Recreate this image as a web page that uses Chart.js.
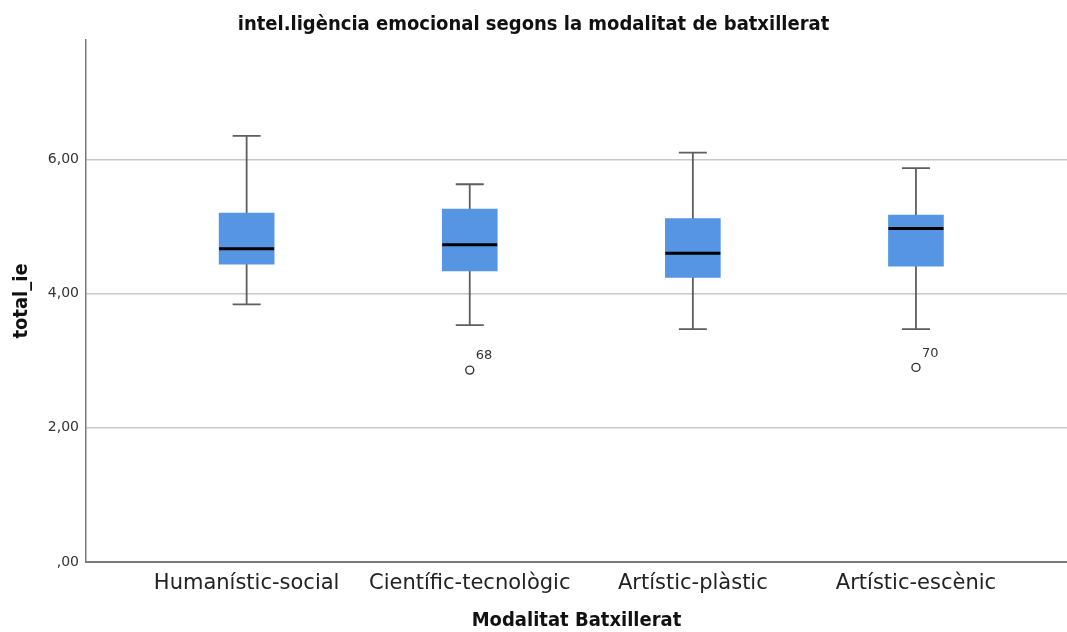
<!DOCTYPE html>
<html>
<head>
<meta charset="utf-8">
<script src="https://cdn.jsdelivr.net/npm/chart.js@4.4.1/dist/chart.umd.min.js"></script>
<style>
  html, body { margin: 0; padding: 0; background: #ffffff; }
  #wrap { width: 1067px; height: 632px; }
</style>
</head>
<body>
<div id="wrap"><canvas id="chart" width="1067" height="632"></canvas></div>
<script>
// Box plot of total_ie by modalitat de batxillerat
const categories  = ['Humanístic-social', 'Científic-tecnològic', 'Artístic-plàstic', 'Artístic-escènic'];
const whiskerLow  = [3.84, 3.53, 3.47, 3.47];
const quartile1   = [4.44, 4.34, 4.24, 4.41];
const medians     = [4.67, 4.73, 4.60, 4.97];
const quartile3   = [5.20, 5.26, 5.12, 5.17];
const whiskerHigh = [6.35, 5.63, 6.10, 5.87];

// outliers: category index, value, case number
const outlierCategory = [1, 3];
const outlierValue    = [2.86, 2.90];
const outlierCase     = ['68', '70'];

const yTicks = [0, 2, 4, 6];

const TITLE_FONT = 'DejaVu Sans Condensed, DejaVu Sans, sans-serif';
const TEXT_FONT  = 'DejaVu Sans, sans-serif';

function fmtComma(v) {
  const s = v.toFixed(2).replace('.', ',');
  return s.startsWith('0') ? s.slice(1) : s;
}

// whiskers behind the boxes, medians and case labels on top
const boxplotParts = {
  id: 'boxplotParts',
  beforeDatasetsDraw(chart, args, opts) {
    const { ctx, scales: { x, y } } = chart;
    ctx.save();
    ctx.strokeStyle = opts.whiskerColor;
    ctx.lineWidth = opts.whiskerWidth;
    categories.forEach((c, i) => {
      const px = x.getPixelForValue(i);
      const lo = y.getPixelForValue(whiskerLow[i]);
      const hi = y.getPixelForValue(whiskerHigh[i]);
      const hw = opts.capWidth / 2;
      ctx.beginPath();
      ctx.moveTo(px, lo); ctx.lineTo(px, hi);
      ctx.moveTo(px - hw, lo); ctx.lineTo(px + hw, lo);
      ctx.moveTo(px - hw, hi); ctx.lineTo(px + hw, hi);
      ctx.stroke();
    });
    ctx.restore();
  },
  afterDatasetsDraw(chart, args, opts) {
    const { ctx, scales: { x, y } } = chart;
    ctx.save();
    ctx.strokeStyle = opts.medianColor;
    ctx.lineWidth = opts.medianWidth;
    categories.forEach((c, i) => {
      const px = x.getPixelForValue(i);
      const py = y.getPixelForValue(medians[i]);
      const hw = opts.boxWidth / 2;
      ctx.beginPath();
      ctx.moveTo(px - hw, py); ctx.lineTo(px + hw, py);
      ctx.stroke();
    });
    ctx.fillStyle = opts.labelColor;
    ctx.font = opts.labelFont;
    ctx.textAlign = 'left';
    ctx.textBaseline = 'middle';
    outlierCategory.forEach((c, i) => {
      const px = x.getPixelForValue(c);
      const py = y.getPixelForValue(outlierValue[i]);
      ctx.fillText(outlierCase[i], px + 6, py - 14);
    });
    ctx.restore();
  }
};

new Chart(document.getElementById('chart'), {
  type: 'bar',
  data: {
    datasets: [
      {
        type: 'bar',
        data: categories.map((c, i) => ({ x: i, y: [quartile1[i], quartile3[i]] })),
        backgroundColor: '#5595e3',
        borderWidth: 0,
        barThickness: 55,
        grouped: false,
        order: 2
      },
      {
        type: 'scatter',
        data: outlierCategory.map((c, i) => ({ x: c, y: outlierValue[i] })),
        pointRadius: 4,
        pointBorderWidth: 1.4,
        pointBackgroundColor: '#ffffff',
        pointBorderColor: '#333333',
        showLine: false,
        clip: false,
        order: 1
      }
    ]
  },
  options: {
    responsive: false,
    animation: false,
    events: [],
    layout: { padding: 0, autoPadding: false },
    plugins: {
      legend: { display: false },
      tooltip: { enabled: false },
      title: {
        display: true,
        text: 'intel.ligència emocional segons la modalitat de batxillerat',
        color: '#111111',
        font: { family: TITLE_FONT, size: 20, weight: 'bold' },
        padding: { top: 13, bottom: 3 }
      },
      boxplotParts: {
        whiskerColor: '#5e5e5e',
        whiskerWidth: 1.8,
        capWidth: 28,
        medianColor: '#000000',
        medianWidth: 3,
        boxWidth: 55,
        labelColor: '#333333',
        labelFont: '13px ' + TEXT_FONT
      }
    },
    scales: {
      x: {
        type: 'linear',
        offset: false,
        min: -0.72,
        max: 3.677,
        afterBuildTicks: (s) => { s.ticks = categories.map((c, i) => ({ value: i })); },
        afterFit: (s) => { s.height = 70; s.paddingLeft = 0; s.paddingRight = 0; },
        grid: { display: false, drawTicks: false, offset: false },
        border: { display: true, color: '#7a7a7a', width: 2 },
        ticks: {
          callback: (v) => categories[v],
          color: '#222222',
          font: { family: TEXT_FONT, size: 21 },
          padding: 9,
          maxRotation: 0,
          autoSkip: false
        },
        title: {
          display: true,
          text: 'Modalitat Batxillerat',
          color: '#111111',
          font: { family: TITLE_FONT, size: 20, weight: 'bold' },
          padding: { top: 0, bottom: -1 }
        }
      },
      y: {
        type: 'linear',
        min: 0,
        max: 7.78,
        afterBuildTicks: (s) => { s.ticks = yTicks.map(v => ({ value: v })); },
        afterFit: (s) => { s.width = 86; },
        grid: {
          color: (c) => (c.tick && c.tick.value === 0) ? 'rgba(0,0,0,0)' : '#c8c8c8',
          lineWidth: 1.5,
          drawTicks: false
        },
        border: { display: true, color: '#7a7a7a', width: 1.5 },
        ticks: {
          callback: (v) => fmtComma(v),
          color: '#333333',
          font: { family: TEXT_FONT, size: 14 },
          padding: 7
        },
        title: {
          display: true,
          text: 'total_ie',
          color: '#111111',
          font: { family: TITLE_FONT, size: 20, weight: 'bold' },
          padding: { top: 10, bottom: 0 }
        }
      }
    }
  },
  plugins: [boxplotParts]
});
</script>
</body>
</html>
